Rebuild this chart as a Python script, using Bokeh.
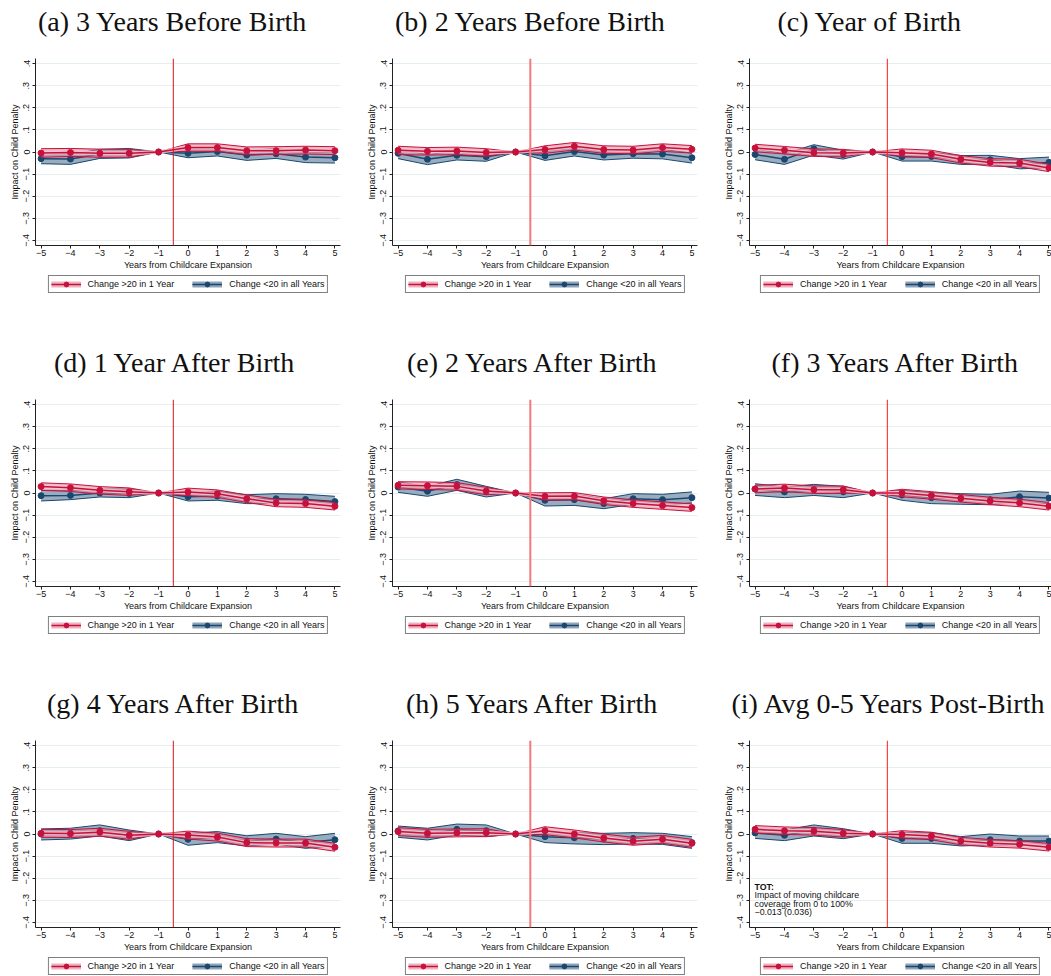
from bokeh.plotting import figure
from bokeh.models import Range1d, FixedTicker, Span, Label, Legend, LegendItem
from bokeh.layouts import column, row
from bokeh.embed import file_html
from bokeh.resources import INLINE

# ---------------- data ----------------
years = [-5, -4, -3, -2, -1, 0, 1, 2, 3, 4, 5]
x_tick_labels = ["\u22125", "\u22124", "\u22123", "\u22122", "\u22121", "0", "1", "2", "3", "4", "5"]
y_ticks = [-0.4, -0.3, -0.2, -0.1, 0, 0.1, 0.2, 0.3, 0.4]
y_tick_labels = ["\u2212.4", "\u2212.3", "\u2212.2", "\u2212.1", "0", ".1", ".2", ".3", ".4"]

titles = ["(a) 3 Years Before Birth", "(b) 2 Years Before Birth", "(c) Year of Birth",
          "(d) 1 Year After Birth", "(e) 2 Years After Birth", "(f) 3 Years After Birth",
          "(g) 4 Years After Birth", "(h) 5 Years After Birth", "(i) Avg 0-5 Years Post-Birth"]
legend_labels = ["Change >20 in 1 Year", "Change <20 in all Years"]
tot_lines = ["TOT:", "Impact of moving childcare", "coverage from 0 to 100%", "\u22120.013 (0.036)"]

# (a)
a_red    = [-0.005, -0.002, -0.006, -0.006, 0, 0.020, 0.020, 0.006, 0.006, 0.009, 0.006]
a_red_hi = [0.015, 0.016, 0.013, 0.012, 0, 0.037, 0.037, 0.023, 0.024, 0.026, 0.024]
a_red_lo = [-0.024, -0.020, -0.024, -0.024, 0, 0.003, 0.003, -0.012, -0.011, -0.009, -0.012]
a_blue    = [-0.030, -0.032, -0.009, -0.006, 0, -0.006, 0.002, -0.014, -0.008, -0.023, -0.026]
a_blue_hi = [-0.009, -0.010, 0.012, 0.016, 0, 0.014, 0.021, 0.008, 0.015, 0.000, -0.003]
a_blue_lo = [-0.053, -0.056, -0.029, -0.027, 0, -0.026, -0.018, -0.038, -0.029, -0.048, -0.050]
# (b)
b_red    = [0.008, 0.003, 0.005, -0.002, 0, 0.011, 0.026, 0.011, 0.009, 0.020, 0.012]
b_red_hi = [0.026, 0.020, 0.022, 0.015, 0, 0.028, 0.043, 0.028, 0.026, 0.037, 0.029]
b_red_lo = [-0.012, -0.014, -0.012, -0.019, 0, -0.006, 0.009, -0.006, -0.008, 0.003, -0.005]
b_blue    = [-0.006, -0.033, -0.015, -0.021, 0, -0.017, 0.002, -0.014, -0.008, -0.009, -0.026]
b_blue_hi = [0.015, -0.012, 0.005, 0.000, 0, 0.003, 0.020, 0.006, 0.011, 0.012, -0.005]
b_blue_lo = [-0.030, -0.057, -0.036, -0.042, 0, -0.038, -0.018, -0.036, -0.028, -0.031, -0.050]
# (c)
c_red    = [0.018, 0.008, -0.003, -0.005, 0, -0.003, -0.009, -0.033, -0.047, -0.050, -0.072]
c_red_hi = [0.035, 0.025, 0.014, 0.012, 0, 0.014, 0.008, -0.016, -0.030, -0.033, -0.055]
c_red_lo = [0.001, -0.009, -0.020, -0.022, 0, -0.020, -0.026, -0.050, -0.064, -0.067, -0.089]
c_blue    = [-0.011, -0.033, 0.014, -0.012, 0, -0.021, -0.020, -0.035, -0.035, -0.053, -0.047]
c_blue_hi = [0.015, -0.008, 0.033, 0.008, 0, -0.004, -0.002, -0.016, -0.015, -0.030, -0.023]
c_blue_lo = [-0.035, -0.056, -0.014, -0.032, 0, -0.041, -0.041, -0.056, -0.056, -0.076, -0.072]
# (d)
d_red    = [0.029, 0.024, 0.012, 0.006, 0, 0.005, -0.003, -0.026, -0.045, -0.048, -0.060]
d_red_hi = [0.046, 0.041, 0.029, 0.023, 0, 0.022, 0.014, -0.009, -0.028, -0.031, -0.043]
d_red_lo = [0.012, 0.007, -0.005, -0.011, 0, -0.012, -0.020, -0.043, -0.062, -0.065, -0.077]
d_blue    = [-0.012, -0.011, 0.000, -0.002, 0, -0.017, -0.014, -0.027, -0.026, -0.029, -0.039]
d_blue_hi = [0.012, 0.012, 0.018, 0.018, 0, 0.005, 0.008, -0.008, -0.003, -0.006, -0.015]
d_blue_lo = [-0.036, -0.030, -0.018, -0.021, 0, -0.036, -0.033, -0.048, -0.048, -0.051, -0.060]
# (e)
e_red    = [0.035, 0.033, 0.030, 0.009, 0, -0.015, -0.014, -0.035, -0.048, -0.057, -0.066]
e_red_hi = [0.051, 0.050, 0.047, 0.026, 0, 0.001, 0.002, -0.018, -0.031, -0.040, -0.049]
e_red_lo = [0.018, 0.016, 0.013, -0.008, 0, -0.032, -0.031, -0.052, -0.065, -0.074, -0.083]
e_blue    = [0.027, 0.008, 0.038, 0.006, 0, -0.033, -0.030, -0.048, -0.026, -0.030, -0.021]
e_blue_hi = [0.050, 0.030, 0.062, 0.030, 0, -0.011, -0.006, -0.026, -0.003, -0.006, 0.005]
e_blue_lo = [0.003, -0.015, 0.012, -0.018, 0, -0.059, -0.056, -0.071, -0.051, -0.054, -0.045]
# (f)
f_red    = [0.018, 0.023, 0.015, 0.015, 0, 0.000, -0.011, -0.024, -0.036, -0.045, -0.060]
f_red_hi = [0.035, 0.040, 0.032, 0.032, 0, 0.017, 0.006, -0.007, -0.019, -0.028, -0.043]
f_red_lo = [0.001, 0.006, -0.002, -0.002, 0, -0.017, -0.028, -0.041, -0.053, -0.062, -0.077]
f_blue    = [0.018, 0.005, 0.015, 0.005, 0, -0.009, -0.021, -0.026, -0.030, -0.017, -0.023]
f_blue_hi = [0.042, 0.027, 0.039, 0.030, 0, 0.012, 0.002, -0.003, -0.006, 0.009, 0.003]
f_blue_lo = [-0.011, -0.021, -0.011, -0.021, 0, -0.033, -0.048, -0.051, -0.053, -0.044, -0.048]
# (g)
g_red    = [0.003, 0.002, 0.008, -0.006, 0, -0.005, -0.014, -0.039, -0.041, -0.041, -0.060]
g_red_hi = [0.021, 0.020, 0.026, 0.012, 0, 0.013, 0.004, -0.021, -0.023, -0.023, -0.042]
g_red_lo = [-0.015, -0.016, -0.010, -0.024, 0, -0.023, -0.032, -0.057, -0.059, -0.059, -0.078]
g_blue    = [0.000, 0.002, 0.015, -0.006, 0, -0.024, -0.014, -0.032, -0.023, -0.039, -0.026]
g_blue_hi = [0.023, 0.026, 0.041, 0.018, 0, 0.003, 0.011, -0.008, 0.003, -0.012, 0.003]
g_blue_lo = [-0.027, -0.023, -0.009, -0.030, 0, -0.051, -0.039, -0.054, -0.045, -0.065, -0.054]
# (h)
h_red    = [0.011, 0.003, 0.005, 0.006, 0, 0.015, 0.000, -0.018, -0.033, -0.024, -0.042]
h_red_hi = [0.029, 0.021, 0.023, 0.024, 0, 0.033, 0.018, 0.000, -0.015, -0.006, -0.024]
h_red_lo = [-0.007, -0.015, -0.013, -0.012, 0, -0.003, -0.018, -0.036, -0.051, -0.042, -0.060]
h_blue    = [0.014, -0.002, 0.021, 0.015, 0, -0.012, -0.017, -0.023, -0.020, -0.023, -0.039]
h_blue_hi = [0.036, 0.026, 0.045, 0.041, 0, 0.011, 0.006, 0.003, 0.006, 0.003, -0.012]
h_blue_lo = [-0.015, -0.027, -0.005, -0.012, 0, -0.039, -0.045, -0.048, -0.045, -0.047, -0.065]
# (i)
i_red    = [0.021, 0.015, 0.012, 0.003, 0, -0.002, -0.009, -0.032, -0.042, -0.047, -0.060]
i_red_hi = [0.038, 0.032, 0.029, 0.020, 0, 0.015, 0.008, -0.015, -0.025, -0.030, -0.043]
i_red_lo = [0.004, -0.002, -0.005, -0.014, 0, -0.019, -0.026, -0.049, -0.059, -0.064, -0.077]
i_blue    = [0.005, -0.006, 0.017, 0.002, 0, -0.020, -0.020, -0.032, -0.026, -0.032, -0.032]
i_blue_hi = [0.026, 0.018, 0.041, 0.024, 0, 0.006, 0.006, -0.012, 0.000, -0.009, -0.009]
i_blue_lo = [-0.020, -0.030, -0.009, -0.021, 0, -0.042, -0.042, -0.054, -0.050, -0.054, -0.054]

panels = [
    (a_red, a_red_lo, a_red_hi, a_blue, a_blue_lo, a_blue_hi),
    (b_red, b_red_lo, b_red_hi, b_blue, b_blue_lo, b_blue_hi),
    (c_red, c_red_lo, c_red_hi, c_blue, c_blue_lo, c_blue_hi),
    (d_red, d_red_lo, d_red_hi, d_blue, d_blue_lo, d_blue_hi),
    (e_red, e_red_lo, e_red_hi, e_blue, e_blue_lo, e_blue_hi),
    (f_red, f_red_lo, f_red_hi, f_blue, f_blue_lo, f_blue_hi),
    (g_red, g_red_lo, g_red_hi, g_blue, g_blue_lo, g_blue_hi),
    (h_red, h_red_lo, h_red_hi, h_blue, h_blue_lo, h_blue_hi),
    (i_red, i_red_lo, i_red_hi, i_blue, i_blue_lo, i_blue_hi),
]

# ---------------- style / layout ----------------
RED = "#c8103c"
RED_FILL = "#e37d94"
RED_HALO = "#f6c9d3"
NAVY = "#1a476f"
BLUE_FILL = "#8fa4b8"
SANS = "Liberation Sans"
SERIF = "Liberation Serif"
VLINE = [("#d8141c", 1), ("#f27a7a", 2), ("#ff1c1c", 1)]

COL_W = [357, 357, 337]
FRAME_W = [305, 305, 302]
LEFT_B = 35
FRAME_H = 187
TITLE_H = 58
AXIS_B = 27
LEGEND_H = [69, 69, 21]
# left offset of each panel title, in px from the plot frame's left edge
TITLE_OFFSET = [2.5, 2.5, 28, 18.5, 14.5, 22, 11.5, 13.5, -18]
TITLE_STANDOFF = 11


def bare_fig(w, h, x0, x1, y0, y1, **kw):
    f = figure(width=w, height=h, x_range=Range1d(x0, x1), y_range=Range1d(y0, y1),
               output_backend="svg", toolbar_location=None,
               x_axis_location=None, y_axis_location=None,
               outline_line_color=None, border_fill_color="white",
               background_fill_color="white", **kw)
    f.grid.visible = False
    return f


def make_title(k):
    r, c = divmod(k, 3)
    right = COL_W[c] - LEFT_B - FRAME_W[c]
    t = bare_fig(COL_W[c], TITLE_H, 0, 1, 0, 1, title=titles[k],
                 min_border_left=LEFT_B, min_border_right=right,
                 min_border_top=0, min_border_bottom=0)
    t.title.text_font = SERIF
    t.title.text_font_size = "28px"
    t.title.text_font_style = "normal"
    t.title.text_color = "#111111"
    t.title.align = "left"
    t.title.vertical_align = "top"
    t.title.offset = TITLE_OFFSET[k]
    t.title.standoff = TITLE_STANDOFF
    return t


def make_legend(k):
    r, c = divmod(k, 3)
    red, _, _, blue, _, _ = panels[k]
    right = COL_W[c] - LEFT_B - FRAME_W[c]
    lf = bare_fig(COL_W[c], LEGEND_H[r], 0, 1, 0, 1, min_border_left=LEFT_B,
                  min_border_right=right, min_border_top=0, min_border_bottom=0)
    # one off-frame point each, only so the legend can draw its samples
    xs = years[:1]
    lb_r = lf.line(xs, red[:1], line_color=RED_FILL, line_width=6, line_alpha=0.6)
    ll_r = lf.line(xs, red[:1], line_color=RED, line_width=1.5)
    ld_r = lf.scatter(xs, red[:1], size=6, marker="circle", fill_color=RED, line_color=RED)
    lb_b = lf.line(xs, blue[:1], line_color=BLUE_FILL, line_width=6)
    ll_b = lf.line(xs, blue[:1], line_color=NAVY, line_width=1.5)
    ld_b = lf.scatter(xs, blue[:1], size=6, marker="circle", fill_color=NAVY, line_color=NAVY)
    legend = Legend(items=[LegendItem(label=legend_labels[0], renderers=[lb_r, ll_r, ld_r]),
                           LegendItem(label=legend_labels[1], renderers=[lb_b, ll_b, ld_b])],
                    orientation="horizontal", location="top_center",
                    border_line_color="black", border_line_width=1,
                    background_fill_color="white", background_fill_alpha=1,
                    padding=2, spacing=18, margin=3, glyph_width=30, glyph_height=12,
                    label_standoff=7, label_height=12, label_width=10,
                    label_text_font=SANS, label_text_font_size="9px",
                    label_text_color="#111111")
    lf.add_layout(legend, "center")
    return lf


def make_panel(k):
    r, c = divmod(k, 3)
    red, red_lo, red_hi, blue, blue_lo, blue_hi = panels[k]
    xmax = 5.19 if c < 2 else 5.086
    p = figure(frame_width=FRAME_W[c], frame_height=FRAME_H,
               x_range=Range1d(-5.19, xmax), y_range=Range1d(-0.423, 0.423),
               output_backend="svg", toolbar_location=None,
               min_border_left=LEFT_B, min_border_right=COL_W[c] - LEFT_B - FRAME_W[c],
               min_border_top=0, min_border_bottom=AXIS_B,
               outline_line_color=None, background_fill_color="white",
               border_fill_color="white")

    p.xaxis.ticker = FixedTicker(ticks=years)
    p.xaxis.major_label_overrides = dict(zip(years, x_tick_labels))
    p.yaxis.ticker = FixedTicker(ticks=y_ticks)
    p.yaxis.major_label_overrides = dict(zip(y_ticks, y_tick_labels))
    p.yaxis.major_label_orientation = "vertical"
    p.xaxis.axis_label = "Years from Childcare Expansion"
    p.yaxis.axis_label = "Impact on Child Penalty"
    for ax in (p.xaxis, p.yaxis):
        ax.axis_line_color = "#222222"
        ax.major_tick_line_color = "#222222"
        ax.major_tick_out = 3
        ax.major_tick_in = 0
        ax.minor_tick_line_color = None
        ax.major_label_text_font = SANS
        ax.major_label_text_font_size = "9px"
        ax.major_label_text_color = "#111111"
        ax.axis_label_text_font = SANS
        ax.axis_label_text_font_size = "9px"
        ax.axis_label_text_font_style = "normal"
        ax.axis_label_text_color = "#111111"
    p.xaxis.major_label_standoff = 1
    p.xaxis.axis_label_standoff = 1
    p.yaxis.major_label_standoff = 3
    p.yaxis.axis_label_standoff = 1
    p.xgrid.visible = False
    p.ygrid.ticker = FixedTicker(ticks=y_ticks)
    p.ygrid.grid_line_color = "#e5eef0"
    p.ygrid.grid_line_width = 1

    # blue series
    p.varea(x=years, y1=blue_lo, y2=blue_hi, fill_color=BLUE_FILL, fill_alpha=0.9)
    p.line(years, blue_hi, line_color=NAVY, line_width=1)
    p.line(years, blue_lo, line_color=NAVY, line_width=1)
    p.line(years, blue, line_color=NAVY, line_width=1.5)
    p.scatter(years, blue, size=6, marker="circle", fill_color=NAVY, line_color=NAVY)

    # red series
    p.varea(x=years, y1=red_lo, y2=red_hi, fill_color=RED_FILL, fill_alpha=0.55)
    p.line(years, red_hi, line_color=RED, line_width=1)
    p.line(years, red_lo, line_color=RED, line_width=1)
    p.line(years, red, line_color=RED_HALO, line_width=4, line_alpha=0.8)
    p.line(years, red, line_color=RED, line_width=1.5)
    p.scatter(years, red, size=6, marker="circle", fill_color=RED, line_color=RED)

    vc, vw = VLINE[c]
    p.add_layout(Span(location=-0.5, dimension="height", line_color=vc, line_width=vw))

    if k == 8:
        ys = [-0.242, -0.278, -0.315, -0.353]
        for j, t in enumerate(tot_lines):
            p.add_layout(Label(x=-5.02, y=ys[j], text=t, text_font=SANS,
                               text_font_size="8.8px", text_align="left",
                               text_baseline="middle", text_color="#111111",
                               text_font_style=("bold" if j == 0 else "normal")))
    return p


rows = []
for r in range(3):
    cols = []
    for c in range(3):
        k = 3 * r + c
        cols.append(column(make_title(k), make_panel(k), make_legend(k), spacing=0))
    rows.append(row(*cols, spacing=0))
layout = column(*rows, spacing=0)

open("out.html", "w").write(file_html(layout, INLINE))
